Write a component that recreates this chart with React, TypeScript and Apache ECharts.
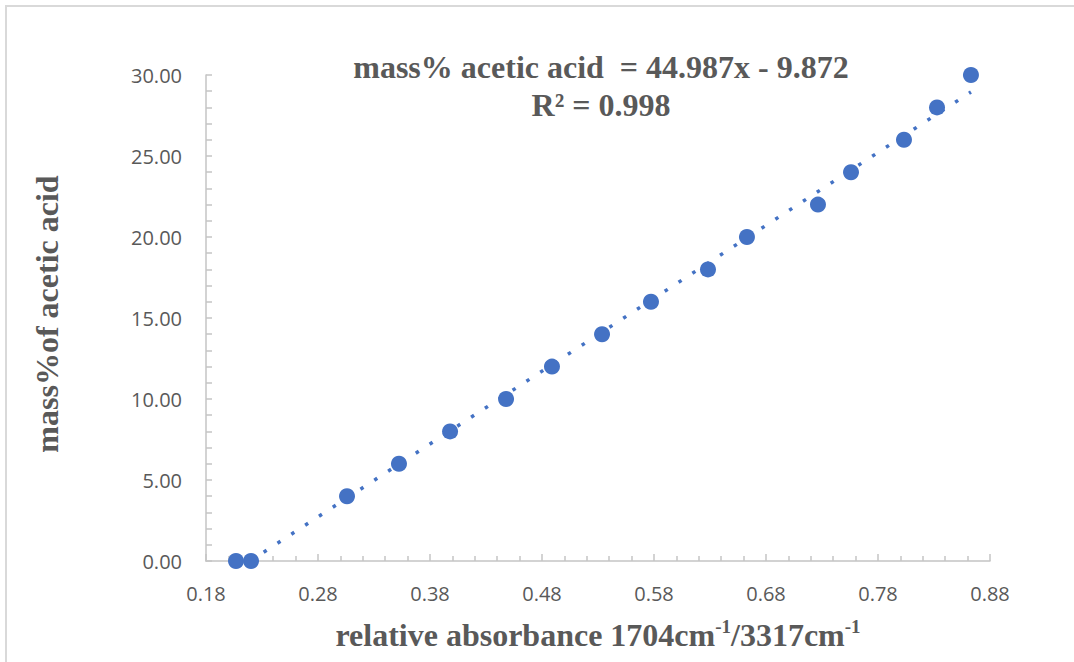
import React, { useEffect, useRef } from "react";
import * as echarts from "echarts";

// Measured data (relative absorbance, mass% acetic acid)
const absorbance = [0.2068, 0.2202, 0.3059, 0.3523, 0.3979, 0.4479, 0.4889, 0.5336, 0.5773, 0.6282, 0.663, 0.7264, 0.7559, 0.8032, 0.8327, 0.863];
const massPercent = [0, 0, 4, 6, 8, 10, 12, 14, 16, 18, 20, 22, 24, 26, 28, 30];

// Trendline end points
const trendX = [0.2068, 0.863];
const trendY = [-0.57, 28.95];

const xTicks = { min: 0.18, max: 0.88, step: 0.1 };
const yTicks = { min: 0, max: 30, step: 5 };

const equationLine1 = "mass% acetic acid  = 44.987x - 9.872";
const equationLine2 = "R² = 0.998";
const yTitle = "mass%of acetic acid";

const TEXT = "#595959";
const AXIS = "#c4c4c4";
const BLUE = "#4472C4";
const SERIF = "'Liberation Serif', 'Times New Roman', serif";
const SANS = "'Open Sans', 'Noto Sans', sans-serif";

export default function App() {
  const ref = useRef<HTMLDivElement>(null);
  useEffect(() => {
    if (!ref.current) return;
    const chart = echarts.init(ref.current, null, { renderer: "svg" });
    const points = absorbance.map((x, i) => [x, massPercent[i]]);
    const trend = trendX.map((x, i) => [x, trendY[i]]);
    chart.setOption({
      animation: false,
      backgroundColor: "#ffffff",
      grid: { left: 206, top: 75, right: 84, bottom: 101, containLabel: false },
      xAxis: {
        type: "value",
        min: xTicks.min,
        max: xTicks.max,
        interval: xTicks.step,
        axisLine: { show: true, lineStyle: { color: AXIS, width: 1.5 } },
        axisTick: { show: true, inside: true, length: 7, lineStyle: { color: AXIS, width: 1.5 } },
        minorTick: { show: true, splitNumber: 5, length: 5, lineStyle: { color: AXIS, width: 1.5 } },
        splitLine: { show: false },
        axisLabel: {
          color: TEXT,
          fontFamily: SANS,
          fontSize: 20,
          margin: 22,
          formatter: (v: number) => v.toFixed(2),
        },
      },
      yAxis: {
        type: "value",
        min: yTicks.min,
        max: yTicks.max,
        interval: yTicks.step,
        axisLine: { show: true, lineStyle: { color: AXIS, width: 1.5 } },
        axisTick: { show: true, inside: true, length: 6, lineStyle: { color: AXIS, width: 1.5 } },
        minorTick: { show: true, splitNumber: 5, length: 6, lineStyle: { color: AXIS, width: 1.5 } },
        splitLine: { show: false },
        axisLabel: {
          color: TEXT,
          fontFamily: SANS,
          fontSize: 20,
          margin: 24,
          formatter: (v: number) => v.toFixed(2),
        },
      },
      series: [
        {
          type: "line",
          data: trend,
          symbol: "none",
          clip: true,
          z: 1,
          lineStyle: { color: BLUE, width: 3.5, type: [3.5, 13], cap: "butt" },
        },
        {
          type: "scatter",
          data: points,
          symbol: "circle",
          symbolSize: 16,
          z: 2,
          itemStyle: { color: BLUE, opacity: 1 },
        },
      ],
      graphic: [
        {
          type: "rect",
          shape: { x: 6, y: 6, width: 1200, height: 1000 },
          style: { fill: "none", stroke: "#d9d9d9", lineWidth: 2 },
          silent: true,
        },
        {
          type: "text",
          x: 601,
          y: 67,
          style: {
            text: equationLine1,
            fill: TEXT,
            font: `bold 32px ${SERIF}`,
            textAlign: "center",
            textVerticalAlign: "middle",
          },
        },
        {
          type: "text",
          x: 601,
          y: 105,
          style: {
            text: equationLine2,
            fill: TEXT,
            font: `bold 32px ${SERIF}`,
            textAlign: "center",
            textVerticalAlign: "middle",
          },
        },
        {
          type: "text",
          x: 47,
          y: 314,
          rotation: Math.PI / 2,
          style: {
            text: yTitle,
            fill: TEXT,
            font: `bold 32px ${SERIF}`,
            textAlign: "center",
            textVerticalAlign: "middle",
          },
        },
        {
          type: "text",
          x: 598,
          y: 634,
          style: {
            text: "{a|relative absorbance 1704cm}{s|-1}{a|/3317cm}{s|-1}",
            textAlign: "center",
            textVerticalAlign: "middle",
            rich: {
              a: { fontFamily: SERIF, fontWeight: "bold", fontSize: 32, fill: TEXT, lineHeight: 34, verticalAlign: "bottom" },
              s: { fontFamily: SERIF, fontWeight: "bold", fontSize: 19, fill: TEXT, lineHeight: 34, verticalAlign: "top" },
            },
          },
        },
      ],
    });
    return () => chart.dispose();
  }, []);
  return <div ref={ref} style={{ position: "absolute", left: 0, top: 0, width: 1074, height: 662 }} />;
}
